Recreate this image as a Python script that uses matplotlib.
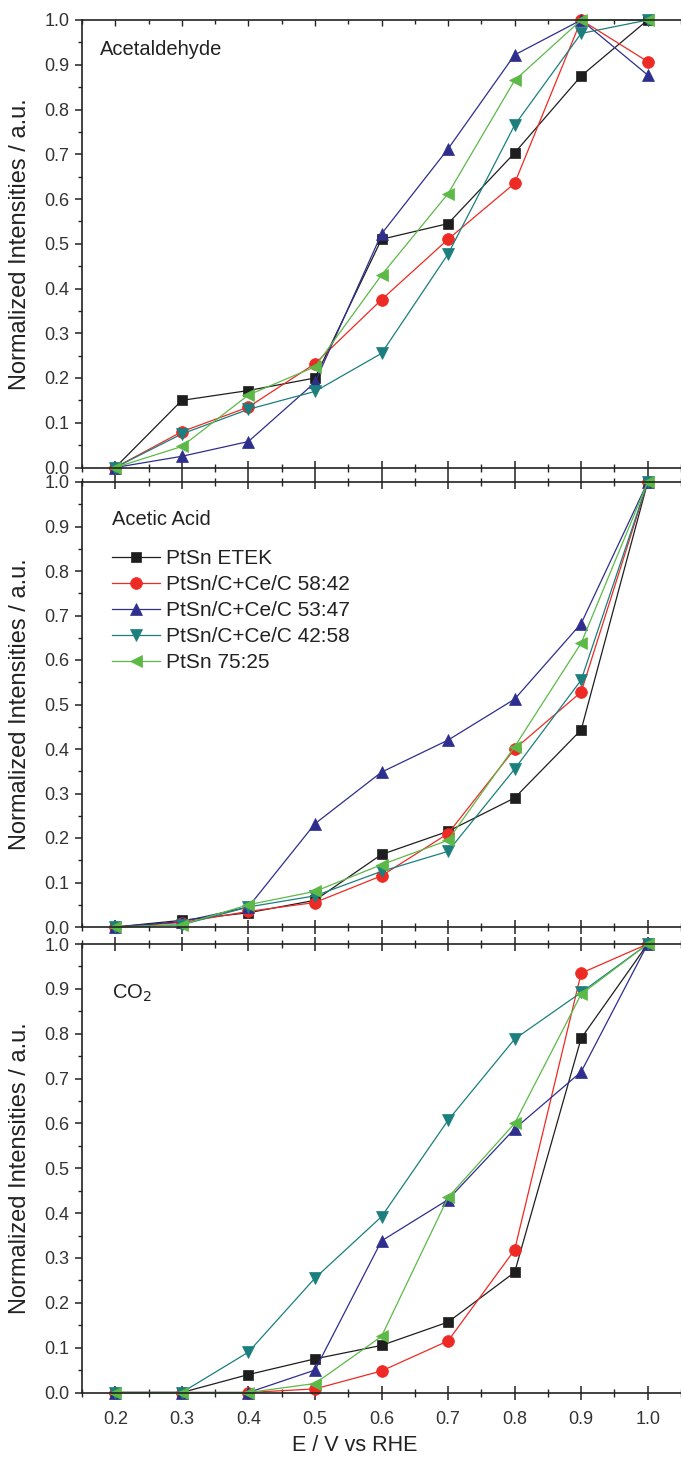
import matplotlib
matplotlib.use("Agg")
import matplotlib.pyplot as plt
from matplotlib.ticker import MultipleLocator

plt.rcParams['font.family'] = ['Liberation Sans', 'DejaVu Sans']

potential = [0.2, 0.3, 0.4, 0.5, 0.6, 0.7, 0.8, 0.9, 1.0]
series_names = ["PtSn ETEK", "PtSn/C+Ce/C 58:42", "PtSn/C+Ce/C 53:47",
                "PtSn/C+Ce/C 42:58", "PtSn 75:25"]
panel_titles = ["Acetaldehyde", "Acetic Acid", "CO$_2$"]

acetaldehyde_etek = [0.0, 0.15, 0.172, 0.20, 0.51, 0.545, 0.703, 0.875, 1.0]
acetaldehyde_5842 = [0.0, 0.08, 0.135, 0.232, 0.375, 0.51, 0.635, 1.0, 0.907]
acetaldehyde_5347 = [0.0, 0.025, 0.058, 0.19, 0.522, 0.712, 0.922, 1.0, 0.877]
acetaldehyde_4258 = [0.0, 0.075, 0.13, 0.17, 0.255, 0.477, 0.765, 0.97, 1.0]
acetaldehyde_7525 = [0.0, 0.047, 0.162, 0.225, 0.43, 0.612, 0.865, 1.0, 1.0]

acetic_etek = [0.0, 0.015, 0.032, 0.06, 0.163, 0.215, 0.29, 0.443, 1.0]
acetic_5842 = [0.0, 0.01, 0.035, 0.055, 0.115, 0.21, 0.40, 0.528, 1.0]
acetic_5347 = [0.0, 0.012, 0.045, 0.232, 0.348, 0.42, 0.512, 0.682, 1.0]
acetic_4258 = [0.0, 0.005, 0.045, 0.07, 0.125, 0.17, 0.355, 0.555, 1.0]
acetic_7525 = [0.0, 0.005, 0.05, 0.08, 0.14, 0.195, 0.405, 0.638, 1.0]

co2_etek = [0.0, 0.0, 0.04, 0.075, 0.105, 0.157, 0.268, 0.79, 1.0]
co2_5842 = [0.0, 0.0, 0.0, 0.008, 0.048, 0.115, 0.318, 0.935, 1.0]
co2_5347 = [0.0, 0.0, 0.0, 0.05, 0.338, 0.43, 0.588, 0.715, 1.0]
co2_4258 = [0.0, 0.0, 0.09, 0.255, 0.392, 0.607, 0.788, 0.892, 1.0]
co2_7525 = [0.0, 0.0, 0.0, 0.02, 0.125, 0.435, 0.60, 0.888, 1.0]

panels = [
    [acetaldehyde_etek, acetaldehyde_5842, acetaldehyde_5347, acetaldehyde_4258, acetaldehyde_7525],
    [acetic_etek, acetic_5842, acetic_5347, acetic_4258, acetic_7525],
    [co2_etek, co2_5842, co2_5347, co2_4258, co2_7525],
]

colors = ['#1e1e1e', '#ee2a24', '#2e2e8f', '#1b7f7e', '#5cb947']
markers = ['s', 'o', '^', 'v', '<']
msizes = [7.5, 8.5, 9, 9, 9]

fig = plt.figure(figsize=(6.81, 14.57), dpi=100)
W, H = 681.0, 1457.0
left = 82 / W
width = 1.0 - left
bounds = [(20, 467.5), (482, 927), (944, 1392.5)]

axes = []
for i, (top, bot) in enumerate(bounds):
    ax = fig.add_axes([left, 1 - bot / H, width, (bot - top) / H])
    axes.append(ax)
    for name, vals, c, m, ms in zip(series_names, panels[i], colors, markers, msizes):
        ax.plot(potential, vals, color=c, marker=m, markersize=ms, lw=0.9,
                markeredgewidth=0.5, markeredgecolor=c, label=name, clip_on=False)
    ax.set_xlim(0.15, 1.05)
    ax.set_ylim(0.0, 1.0)
    ax.spines['right'].set_visible(False)
    for s in ['left', 'top', 'bottom']:
        ax.spines[s].set_linewidth(1.2)
        ax.spines[s].set_color('#222222')
    ax.xaxis.set_major_locator(MultipleLocator(0.1))
    ax.xaxis.set_minor_locator(MultipleLocator(0.05))
    ax.yaxis.set_major_locator(MultipleLocator(0.1))
    ax.yaxis.set_minor_locator(MultipleLocator(0.05))
    ax.yaxis.set_major_formatter(matplotlib.ticker.FormatStrFormatter('%.1f'))
    ax.xaxis.set_major_formatter(matplotlib.ticker.FormatStrFormatter('%.1f'))
    ax.tick_params(axis='y', which='major', direction='out', length=5, width=1.1,
                   labelsize=13, labelcolor='#333333', color='#222222', pad=4)
    ax.tick_params(axis='y', which='minor', direction='out', length=3, width=1.0, color='#222222')
    ax.tick_params(axis='x', which='major', direction='inout', length=10, width=1.1,
                   top=True, bottom=True, labelsize=13, labelcolor='#333333',
                   color='#222222', pad=8)
    ax.tick_params(axis='x', which='minor', direction='inout', length=6, width=1.0,
                   top=True, bottom=True, color='#222222')
    if i == 0:
        ax.tick_params(axis='x', which='both', top=False)
    if i < 2:
        ax.tick_params(axis='x', labelbottom=False)
    ax.set_ylabel("Normalized Intensities / a.u.", fontsize=17, color='#222222')
    ax.yaxis.set_label_coords(-0.085, 0.5)

axes[0].text(0.03, 0.955, panel_titles[0], transform=axes[0].transAxes,
             fontsize=14.5, va='top', ha='left', color='#222222')
axes[1].text(0.05, 0.937, panel_titles[1], transform=axes[1].transAxes,
             fontsize=14.5, va='top', ha='left', color='#222222')
axes[2].text(0.05, 0.913, panel_titles[2], transform=axes[2].transAxes,
             fontsize=14.5, va='top', ha='left', color='#222222')

# top-panel top spine inward ticks
axes[0].secondary_xaxis('top').tick_params(which='both', direction='in', labeltop=False)
sec = axes[0].child_axes[0]
sec.xaxis.set_major_locator(MultipleLocator(0.1))
sec.xaxis.set_minor_locator(MultipleLocator(0.05))
sec.tick_params(axis='x', which='major', length=4, width=1.0, color='#222222')
sec.tick_params(axis='x', which='minor', length=3, width=1.0, color='#222222')
sec.spines['top'].set_visible(False)

leg = axes[1].legend(loc='upper left', bbox_to_anchor=(0.037, 0.868), frameon=False,
                     fontsize=15, handlelength=2.3, labelspacing=0.34,
                     handletextpad=0.25, borderaxespad=0.0)
for t in leg.get_texts():
    t.set_color('#222222')

axes[2].set_xlabel("E / V vs RHE", fontsize=15.5, color='#222222')
axes[2].xaxis.set_label_coords(0.455, -0.095)

fig.savefig("out.png", dpi=100)
